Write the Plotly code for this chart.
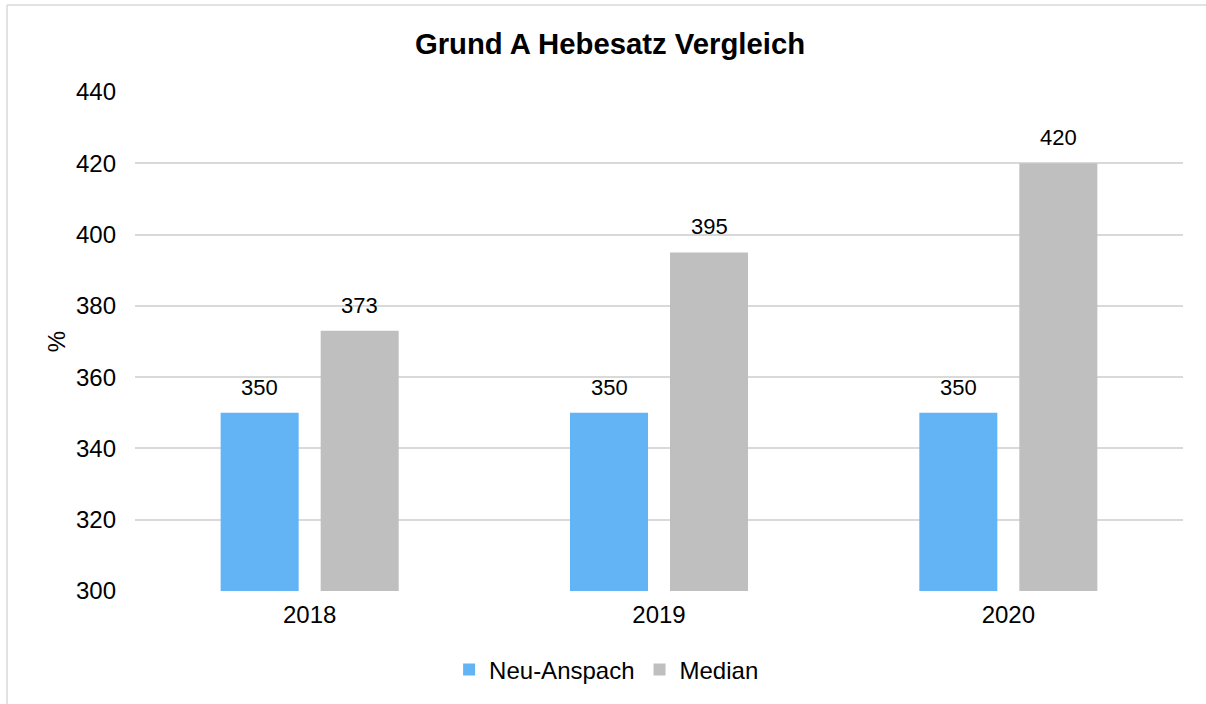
import plotly.graph_objects as go

years = ["2018", "2019", "2020"]
neu_anspach = [350, 350, 350]
median = [373, 395, 420]

font_family = "Liberation Sans, Arial, sans-serif"
series = [("Neu-Anspach", neu_anspach, "#63B4F5", -50), ("Median", median, "#BFBFBF", 50)]

fig = go.Figure()
for name, values, color, shift in series:
    fig.add_trace(go.Bar(
        name=name, x=years, y=values,
        marker=dict(color=color, line=dict(width=0)),
    ))
    # value labels above each bar (category axes position annotations by index)
    for idx, v in enumerate(values):
        fig.add_annotation(x=idx, y=v, xref="x", yref="y", text=str(v), showarrow=False,
                           xshift=shift, yshift=11, yanchor="bottom",
                           font=dict(size=22, color="#000000"))

fig.update_layout(
    width=1206, height=704,
    margin=dict(l=135, r=23, t=92, b=113),
    paper_bgcolor="white", plot_bgcolor="white",
    font=dict(family=font_family, size=24, color="#000000"),
    title=dict(text="<b>Grund A Hebesatz Vergleich</b>", x=0.5058, xanchor="center",
               y=1 - 44 / 704, yanchor="middle", font=dict(size=29.3)),
    barmode="group", bargap=0.4274, bargroupgap=0.22,
    showlegend=True,
    legend=dict(orientation="h", x=0.45, xanchor="center", y=-0.158, yanchor="middle",
                font=dict(size=24), itemwidth=30, traceorder="normal"),
    xaxis=dict(type="category", showgrid=False, showline=False, ticks="",
               tickfont=dict(size=24), ticklabelstandoff=7),
    yaxis=dict(range=[300, 440], dtick=20, showgrid=True, gridcolor="#D9D9D9", gridwidth=1.5,
               zeroline=False, showline=False, ticks="", ticklen=0,
               tickfont=dict(size=24), ticklabelstandoff=18,
               title=dict(text="%", font=dict(size=24), standoff=3)),
)

# outer chart frame: top and left edges (the rest runs off the page)
frame_left = (7 - 135) / 1048
frame_top = (591 - 5) / 499
frame = dict(color="#D9D9D9", width=1.5)
fig.add_shape(type="line", xref="paper", yref="paper", x0=frame_left, x1=1.1,
              y0=frame_top, y1=frame_top, line=frame, layer="below")
fig.add_shape(type="line", xref="paper", yref="paper", x0=frame_left, x1=frame_left,
              y0=frame_top, y1=-0.3, line=frame, layer="below")

fig.write_html("out.html")
